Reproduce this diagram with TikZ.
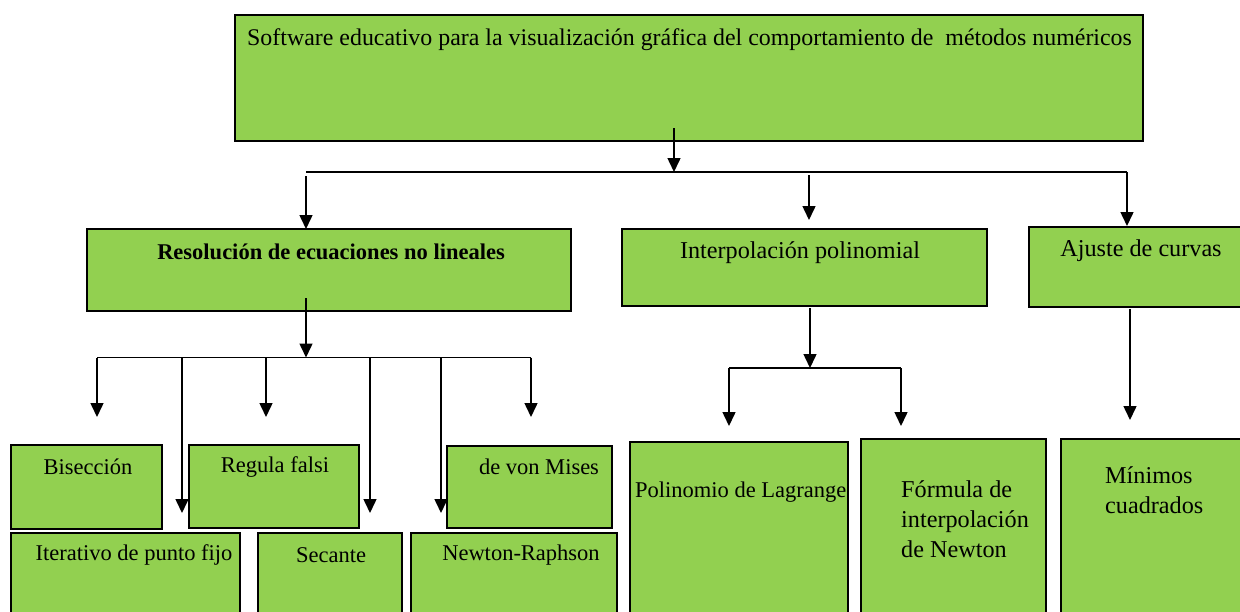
\documentclass[tikz,border=0pt]{standalone}
\usepackage{fontspec}
\setmainfont{Liberation Serif}
\usetikzlibrary{arrows.meta}
\definecolor{boxgreen}{HTML}{92D050}
\begin{document}
\begin{tikzpicture}[x=1pt,y=-1pt,
  box/.style={draw=black, line width=2.5pt, fill=boxgreen, rectangle, inner sep=0pt, outer sep=0pt, anchor=north west},
  lbl/.style={font=\fontsize{22.5}{29.5}\selectfont, inner sep=0pt},
  biglbl/.style={font=\fontsize{24.2}{29.8}\selectfont, inner sep=0pt},
  titlelbl/.style={font=\fontsize{23.9}{29.8}\selectfont, inner sep=0pt},
  arr/.style={line width=1.5pt, -{Triangle[length=14pt,width=13pt]}},
  ln/.style={line width=1.5pt}]
\clip (0,0) rectangle (1240,611);
\fill[white] (0,0) rectangle (1240,611);
% boxes
\node[box, minimum width=908pt, minimum height=126pt] (top) at (235,15) {};
\node[box, minimum width=484pt, minimum height=82pt] (res) at (87,229) {};
\node[box, minimum width=365pt, minimum height=77pt] (interp) at (622,229) {};
\node[box, minimum width=240pt, minimum height=80pt] (ajuste) at (1029,227) {};
\node[box, minimum width=151pt, minimum height=84pt] (bis) at (11,445) {};
\node[box, minimum width=170pt, minimum height=83pt] (reg) at (189,445) {};
\node[box, minimum width=165pt, minimum height=82pt] (mis) at (447,446) {};
\node[box, minimum width=229pt, minimum height=95pt] (iter) at (11,533) {};
\node[box, minimum width=144pt, minimum height=95pt] (sec) at (258,533) {};
\node[box, minimum width=206pt, minimum height=95pt] (nr) at (411,533) {};
\node[box, minimum width=218pt, minimum height=190pt] (lag) at (630,442) {};
\node[box, minimum width=185pt, minimum height=190pt] (form) at (861,439) {};
\node[box, minimum width=200pt, minimum height=190pt] (mincua) at (1061,439) {};
% labels
\node[titlelbl, anchor=west] (ttop) at (247,40) {Software educativo para la visualización gráfica del comportamiento de\ \ métodos numéricos};
\node[lbl] (tres) at (331,252) {\bfseries Resolución de ecuaciones no lineales};
\node[biglbl] (tinterp) at (800,253) {Interpolación polinomial};
\node[biglbl] (tajuste) at (1141,251) {Ajuste de curvas};
\node[lbl] (tbis) at (88,467) {Bisección};
\node[lbl] (treg) at (275,467) {Regula falsi};
\node[lbl] (tmis) at (539,467) {de von Mises};
\node[lbl] (titer) at (134,555) {Iterativo de punto fijo};
\node[lbl] (tsec) at (331,555) {Secante};
\node[lbl] (tnr) at (521,555) {Newton-Raphson};
\node[lbl, anchor=west] (tlag) at (635,492) {Polinomio de Lagrange};
\node[biglbl, anchor=west, align=left] (tform) at (901,519) {Fórmula de\\interpolación\\de Newton};
\node[biglbl, anchor=west, align=left] (tmin) at (1105,490) {Mínimos\\cuadrados};
% junction coordinates
\coordinate (topout) at (674,128);
\coordinate (j0) at (674,172);
\coordinate (h0l) at (306,172);
\coordinate (h0r) at (1127,172);
\coordinate (resin) at (306,176);
\coordinate (interpin) at (809,175);
\coordinate (resout) at (306,298);
\coordinate (j1) at (306,357.5);
\coordinate (h1l) at (97,357.5);
\coordinate (h1r) at (531,357.5);
\coordinate (interpout) at (810,308);
\coordinate (j2) at (810,368);
\coordinate (h2l) at (729,368);
\coordinate (h2r) at (901,368);
\coordinate (ajout) at (1130,309);
% level 0 -> 1
\draw[arr] (topout) -- (j0);
\draw[ln] (h0l) -- (h0r);
\draw[arr] (resin) -- (res.north -| resin);
\draw[arr] (interpin) -- ([yshift=9pt]interp.north -| interpin);
\draw[arr] (h0r) -- ([yshift=1pt]ajuste.north -| h0r);
% Resolucion group
\draw[arr] (resout) -- (j1);
\draw[ln] (h1l) -- (h1r);
\draw[arr] (h1l) -- ++(0,59.5) coordinate (a1);
\draw[arr] (182,357.5) coordinate (b2) -- ++(0,155.5) coordinate (a2);
\draw[arr] (266,357.5) coordinate (b3) -- ++(0,59.5) coordinate (a3);
\draw[arr] (370,357.5) coordinate (b4) -- ++(0,155.5) coordinate (a4);
\draw[arr] (441,357.5) coordinate (b5) -- ++(0,155.5) coordinate (a5);
\draw[arr] (h1r) -- ++(0,59.5) coordinate (a6);
% Interpolacion group
\draw[arr] (interpout) -- (j2);
\draw[ln] (h2l) -- (h2r);
\draw[arr] (h2l) -- ++(0,58) coordinate (a7);
\draw[arr] (h2r) -- ++(0,58) coordinate (a8);
% Ajuste
\draw[arr] (ajout) -- ++(0,111) coordinate (a9);
\end{tikzpicture}
\end{document}
